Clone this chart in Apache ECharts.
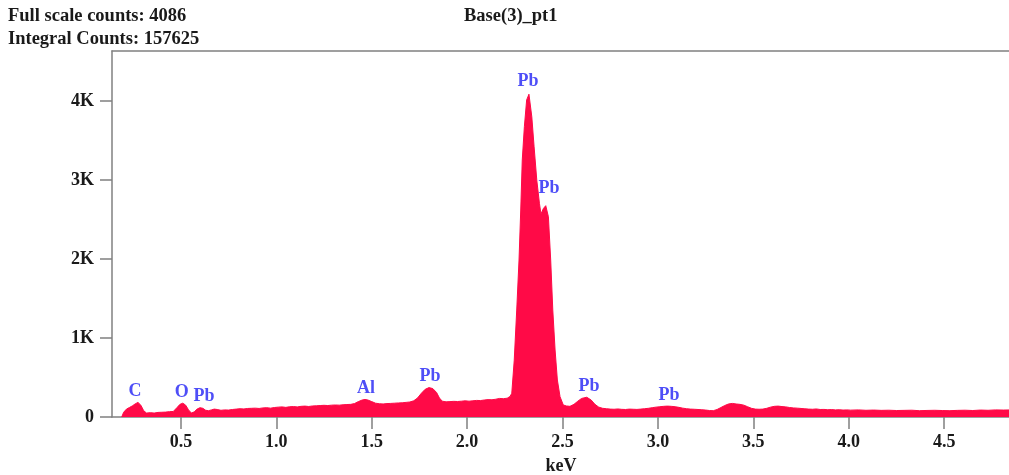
<!DOCTYPE html>
<html>
<head>
<meta charset="utf-8">
<script src="https://cdn.jsdelivr.net/npm/echarts@6/dist/echarts.min.js"></script>
<style>
  html, body { margin: 0; padding: 0; background: #fff; }
  #chart { width: 1009px; height: 475px; }
</style>
</head>
<body>
<div id="chart"></div>
<script>
// spectrum (keV / counts)
const energies = [
  0.19, 0.20, 0.215, 0.23, 0.245, 0.26, 0.275, 0.29, 0.305, 0.32, 0.34, 0.36, 0.38, 0.40, 0.42, 0.44, 0.46,
  0.48, 0.495, 0.51, 0.525, 0.54, 0.555, 0.57, 0.585, 0.60, 0.615, 0.63, 0.645, 0.66, 0.675, 0.69,
  0.71, 0.73, 0.75, 0.77, 0.79, 0.81, 0.83, 0.85, 0.87, 0.89, 0.91, 0.93, 0.95, 0.97, 0.99,
  1.01, 1.03, 1.05, 1.07, 1.09, 1.11, 1.13, 1.15, 1.17, 1.19, 1.21, 1.23, 1.25, 1.27, 1.29, 1.31, 1.33, 1.35, 1.37, 1.39,
  1.41, 1.43, 1.45, 1.465, 1.48, 1.50, 1.52, 1.54, 1.56, 1.58, 1.60, 1.62, 1.64, 1.66, 1.68, 1.70,
  1.72, 1.74, 1.76, 1.78, 1.80, 1.82, 1.84, 1.855, 1.87, 1.89, 1.91, 1.93, 1.95, 1.97, 1.99,
  2.01, 2.03, 2.05, 2.07, 2.09, 2.11, 2.13, 2.15, 2.17, 2.19, 2.21, 2.225, 2.234, 2.247, 2.26, 2.272,
  2.281, 2.289, 2.30, 2.312, 2.324, 2.339, 2.351, 2.365, 2.379, 2.387, 2.40, 2.412, 2.426, 2.438, 2.449,
  2.461, 2.473, 2.487, 2.504, 2.52, 2.539, 2.56, 2.58, 2.60, 2.627, 2.65, 2.67, 2.69,
  2.71, 2.73, 2.75, 2.77, 2.79, 2.81, 2.83, 2.85, 2.87, 2.89, 2.91, 2.93, 2.95, 2.97, 2.99,
  3.01, 3.03, 3.05, 3.07, 3.09, 3.11, 3.13, 3.15, 3.17, 3.19, 3.21, 3.23, 3.25, 3.27, 3.29,
  3.31, 3.33, 3.35, 3.37, 3.39, 3.41, 3.43, 3.45, 3.47, 3.49, 3.51, 3.53, 3.55, 3.57, 3.59,
  3.61, 3.63, 3.65, 3.67, 3.69, 3.71, 3.73, 3.75, 3.77, 3.79, 3.81, 3.83, 3.85, 3.87, 3.89,
  3.91, 3.93, 3.95, 3.97, 3.99, 4.01, 4.05, 4.09, 4.13, 4.17, 4.21, 4.25, 4.29, 4.33, 4.37,
  4.41, 4.45, 4.49, 4.53, 4.57, 4.61, 4.65, 4.69, 4.73, 4.77, 4.81, 4.85
];
const counts = [
  0, 60, 100, 120, 140, 165, 185, 150, 80, 50, 55, 50, 58, 60, 62, 68, 70,
  120, 160, 175, 150, 90, 50, 65, 100, 118, 110, 85, 80, 90, 100, 95,
  85, 90, 88, 95, 100, 105, 102, 108, 110, 112, 108, 115, 118, 112, 120,
  125, 128, 122, 130, 132, 128, 135, 138, 133, 140, 142, 145, 148, 145, 150, 152, 150, 155, 158, 160,
  170, 195, 215, 222, 215, 195, 175, 168, 165, 170, 172, 175, 178, 180, 185, 190,
  205, 240, 300, 350, 372, 360, 310, 240, 200, 192, 195, 198, 196, 200, 205,
  200, 205, 210, 208, 215, 220, 218, 225, 235, 232, 238, 260, 300, 720, 1354, 1987,
  2620, 3253, 3675, 4013, 4086, 3800, 3420, 3000, 2705, 2570, 2640, 2675, 2535, 1987, 1354,
  848, 468, 257, 152, 140, 135, 160, 200, 235, 250, 215, 160, 125,
  110, 105, 100, 98, 102, 97, 95, 100, 98, 96, 100, 105, 110, 118, 125,
  130, 135, 138, 135, 130, 122, 112, 105, 100, 98, 95, 92, 88, 82, 80,
  95, 120, 145, 165, 172, 165, 160, 150, 130, 110, 100, 98, 100, 110, 125,
  135, 138, 132, 128, 120, 115, 112, 108, 104, 100, 98, 102, 95, 96, 92,
  94, 90, 92, 88, 90, 87, 90, 85, 88, 84, 86, 82, 84, 86, 80,
  83, 85, 82, 80, 84, 86, 82, 88, 85, 90, 88, 90
];

// element labels: name, energy, count where the label sits
const peakNames = ['C', 'O', 'Pb', 'Al', 'Pb', 'Pb', 'Pb', 'Pb', 'Pb'];
const peakEnergies = [0.259, 0.505, 0.621, 1.47, 1.805, 2.319, 2.429, 2.639, 3.058];
const peakLabelCounts = [329, 316, 266, 367, 519, 4253, 2899, 392, 278];

const xTicks = [0.5, 1.0, 1.5, 2.0, 2.5, 3.0, 3.5, 4.0, 4.5];
const yTicks = [0, 1000, 2000, 3000, 4000];

const headerLeft = ['Full scale counts: 4086', 'Integral Counts: 157625'];
const headerCenter = 'Base(3)_pt1';
const xName = 'keV';

const FONT = '"Liberation Serif", "DejaVu Serif", serif';
const axisGray = '#808080';

const chart = echarts.init(document.getElementById('chart'));

const spectrum = energies.map((e, i) => [e, counts[i]]);
const peaks = peakNames.map((n, i) => [peakEnergies[i], peakLabelCounts[i], n]);

const option = {
  animation: false,
  title: [
    { text: headerLeft[0], left: 8, top: 7 },
    { text: headerLeft[1], left: 8, top: 30 },
    { text: headerCenter, left: 464, top: 7 }
  ].map(t => Object.assign(t, {
    padding: 0,
    textStyle: { fontFamily: FONT, fontWeight: 'bold', fontSize: 18.5, color: '#1a1a1a' }
  })),
  grid: { left: 112, top: 51, right: -1, bottom: 58, outerBoundsMode: 'none', containLabel: false },
  xAxis: [
    {
      type: 'value',
      min: 0.139,
      max: 4.845,
      name: xName,
      nameLocation: 'middle',
      nameGap: 40,
      nameTextStyle: { fontFamily: FONT, fontWeight: 'bold', fontSize: 18, color: '#1a1a1a' },
      splitLine: { show: false },
      axisLine: { show: true, lineStyle: { color: axisGray, width: 1.5 } },
      axisTick: { show: true, length: 12, customValues: xTicks, lineStyle: { color: axisGray, width: 1.5 } },
      axisLabel: {
        customValues: xTicks,
        margin: 16,
        fontFamily: FONT, fontWeight: 'bold', fontSize: 18, color: '#1a1a1a',
        formatter: v => v.toFixed(1)
      }
    },
    {
      type: 'value',
      position: 'top',
      min: 0.139,
      max: 4.845,
      splitLine: { show: false },
      axisLine: { show: true, onZero: false, lineStyle: { color: axisGray, width: 1.5 } },
      axisTick: { show: false },
      axisLabel: { show: false }
    }
  ],
  yAxis: {
    type: 'value',
    min: 0,
    max: 4633,
    splitLine: { show: false },
    axisLine: { show: true, lineStyle: { color: axisGray, width: 1.5 } },
    axisTick: { show: true, length: 12, customValues: yTicks, lineStyle: { color: axisGray, width: 1.5 } },
    axisLabel: {
      customValues: yTicks,
      margin: 18,
      fontFamily: FONT, fontWeight: 'bold', fontSize: 18, color: '#1a1a1a',
      formatter: v => (v === 0 ? '0' : (v / 1000) + 'K')
    }
  },
  series: [
    {
      type: 'line',
      data: spectrum,
      symbol: 'none',
      lineStyle: { width: 1, color: '#ff0a47' },
      areaStyle: { color: '#ff0a47', opacity: 1 },
      z: 2
    },
    {
      type: 'scatter',
      data: peaks,
      symbolSize: 0,
      silent: true,
      z: 3,
      label: {
        show: true,
        position: 'inside',
        formatter: p => p.value[2],
        fontFamily: FONT, fontWeight: 'bold', fontSize: 18, color: '#2222f5'
      }
    }
  ]
};

chart.setOption(option);
</script>
</body>
</html>
